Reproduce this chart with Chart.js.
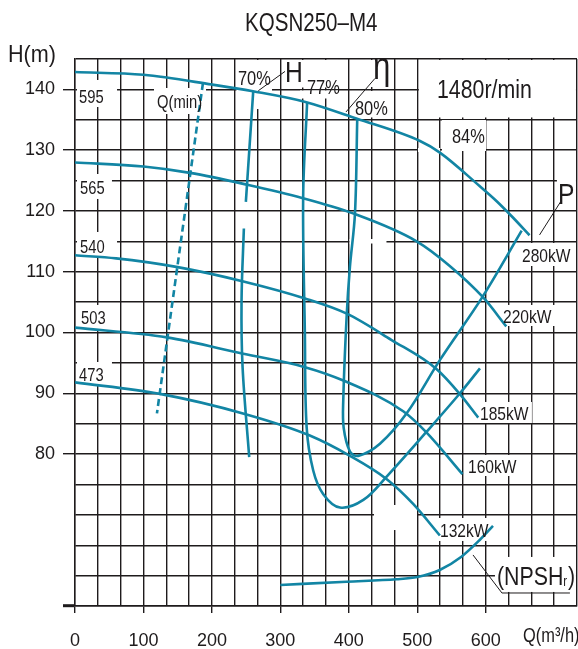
<!DOCTYPE html>
<html>
<head>
<meta charset="utf-8">
<script src="https://cdn.jsdelivr.net/npm/chart.js@4/dist/chart.umd.min.js"></script>
<style>
html, body { margin: 0; padding: 0; background: #fff; }
#wrap { width: 578px; height: 649px; position: relative; }
</style>
</head>
<body>
<div id="wrap"><canvas id="c"></canvas></div>
<script>
// head curves, one per impeller diameter (Q in m3/h, H in m)
var h595X = [0, 100, 200, 260, 338, 411, 504, 533, 591, 616, 639, 664];
var h595Y = [142.85, 142.4, 140.8, 139.7, 137.9, 135.2, 131.5, 129.6, 124.1, 121.6, 119.0, 116.0];
var h565X = [0, 100, 168, 250, 333, 406, 499, 547, 596, 630];
var h565Y = [127.97, 127.3, 126.26, 124.35, 122.1, 119.6, 115.0, 111.0, 105.8, 101.0];
var h540X = [0, 60, 148, 246, 336, 397, 462, 528, 562, 589];
var h540Y = [112.7, 112.2, 110.8, 108.4, 105.6, 103.1, 98.8, 94.0, 89.9, 86.0];
var h503X = [0, 134, 246, 336, 392, 480, 513, 566];
var h503Y = [100.8, 99.2, 96.5, 94.3, 92.1, 87.0, 83.6, 76.7];
var h473X = [0, 124, 248, 343, 401, 455, 494, 533];
var h473Y = [91.8, 89.9, 86.6, 83.05, 79.75, 75.9, 71.8, 66.6];

// iso-efficiency lines (null = break in the printed line)
var e70X = [260.3, 249.6, 248, 246.7, 243.3, 244.8, 254.5];
var e70Y = [139.6, 121.5, null, 117.1, 105.3, 94.3, 79.5];
var e77X = [339.1, 333.3, 335.8, 338.4, 348, 362.7, 387.1, 421.2, 455.3, 513.7, 562.4, 591.6];
var e77Y = [137.86, 122.3, 99.8, 84.4, 77.3, 73.4, 71.2, 72.45, 76.3, 83.68, 90.0, 94.1];
var e80X = [412.3, 409, 401.6, 396.8, 391.9, 392.5, 401.7, 413.8, 445.5, 484.5, 533.2, 595.5, 652.5];
var e80Y = [135.1, 119.6, 110.8, 102.6, 88.9, 84.3, 80.4, 79.7, 81.7, 86.7, 95.5, 105.9, 116.75];

// minimum flow line
var qMinX = [186.9, 119.7];
var qMinY = [141.04, 86.7];

// NPSHr curve, drawn in the frame of the H axis
var npshX = [300, 396.6, 469.6, 500.3, 532.8, 564.5, 591.2, 610.6];
var npshY = [58.46, 59.0, 59.4, 59.78, 60.93, 63.11, 65.86, 68.17];

// tick labels
var xTickLabels = [0, 100, 200, 300, 400, 500, 600];
var yTickLabels = [80, 90, 100, 110, 120, 130, 140];

var FONT = "'Liberation Sans Narrow','Arial Narrow','Liberation Sans',Arial,sans-serif";
var INK = '#1e1b1c';
var TEAL = '#1285a4';
var SQUEEZE = 0.82;   // the print uses a condensed face

// leader lines for labels
var leaders = [
  [[267.8, 139.78], [306.8, 142.96]],
  [[395.8, 136.28], [438.2, 141.8]],
  [[678.6, 116.05], [709.3, 121.5]],
  [[581.4, 63.4], [623.7, 57.14], [723, 57.14]]
];

// white patches behind labels [x0, x1, yTop, yBottom]
var masks = [
  [2.9, 61.4, 141.55, 137.1],
  [2.9, 54.0, 126.08, 121.97],
  [2.9, 61.4, 116.54, 112.26],
  [2.9, 58.4, 104.53, 100.41],
  [2.9, 54.0, 95.15, 91.2],
  [115.4, 191.4, 140.23, 135.95],
  [235.9, 287.8, 144.84, 136.77],
  [302.4, 334.5, 144.84, 140.56],
  [328.7, 384.2, 144.84, 140.31],
  [328.7, 384.2, 139.82, 138.5],
  [423.6, 464.5, 144.84, 140.39],
  [404.6, 464.5, 139.74, 135.38],
  [536.1, 600.4, 134.96, 129.86],
  [501, 533.2, 130.36, 129.7],
  [401, 455, 115.38, 114.64],
  [502.3, 731.8, 144.84, 135.38],
  [704, 731.8, 125.4, 120.65],
  [650, 726, 114.73, 110.94],
  [622.3, 701.2, 104.53, 101.07],
  [588.7, 667.5, 88.57, 85.11],
  [571.1, 650, 79.85, 76.39],
  [530.2, 606.2, 69.48, 65.7],
  [613.5, 731.8, 63.07, 57.31],
  [436.8, 499.6, 71.62, 67.5]
];

// text labels, y is the baseline
var notes = [
  { t: '595', x: 5.8, y: 137.84, size: 18 },
  { t: '565', x: 7.3, y: 122.87, size: 18 },
  { t: '540', x: 7.3, y: 113.16, size: 18 },
  { t: '503', x: 8.8, y: 101.32, size: 18 },
  { t: '473', x: 5.8, y: 91.94, size: 18 },
  { t: 'Q(min)', x: 119.8, y: 137.02, size: 18 },
  { t: '70%', x: 238.1, y: 140.72, size: 20 },
  { t: 'H', x: 306.7, y: 141.27, size: 30 },
  { t: '77%', x: 338.9, y: 139.19, size: 20 },
  { t: '80%', x: 409, y: 135.79, size: 20 },
  { t: '\u03b7', x: 435.3, y: 141.71, size: 38 },
  { t: '84%', x: 550.7, y: 131.23, size: 20 },
  { t: '1480r/min', x: 528.8, y: 138.63, size: 26 },
  { t: 'P', x: 705.5, y: 121.14, size: 30 },
  { t: '280kW', x: 653, y: 111.6, size: 19 },
  { t: '220kW', x: 625.2, y: 101.56, size: 19 },
  { t: '185kW', x: 591.6, y: 85.6, size: 19 },
  { t: '160kW', x: 574.1, y: 76.89, size: 19 },
  { t: '132kW', x: 533.2, y: 66.36, size: 19 },
  { t: '(NPSH', sub: 'r', tail: ')', x: 616.4, y: 58.46, size: 26 }
];

function pts(xs, ys) {
  return xs.map(function (x, i) { return { x: x, y: ys[i] }; });
}
function curve(xs, ys, extra) {
  var d = {
    data: pts(xs, ys), borderColor: TEAL, borderWidth: 2.6,
    pointRadius: 0, fill: false, tension: 0.35, spanGaps: false
  };
  for (var k in extra) d[k] = extra[k];
  return d;
}
function isXLabel(v) {
  return xTickLabels.some(function (t) { return Math.abs(t - v) < 0.01; });
}
function isYLabel(v) {
  return yTickLabels.some(function (t) { return Math.abs(t - v) < 0.01; });
}
// condensed text: draw with a horizontal squeeze at (px, py)
function squeezed(c, text, px, py, size, k) {
  c.save();
  c.font = size + 'px ' + FONT;
  c.translate(px, py);
  c.scale(k, 1);
  c.fillText(text, 0, 0);
  var w = c.measureText(text).width * k;
  c.restore();
  return w;
}

var xGrid = [], yGrid = [];
for (var i = 0; i <= 22; i++) xGrid.push(i * 100 / 3);
for (var j = 0; j <= 18; j++) yGrid.push(55 + j * 5);

var datasets = [
  curve(h595X, h595Y, { cubicInterpolationMode: 'monotone' }),
  curve(h565X, h565Y, { cubicInterpolationMode: 'monotone' }),
  curve(h540X, h540Y, { cubicInterpolationMode: 'monotone' }),
  curve(h503X, h503Y, { cubicInterpolationMode: 'monotone' }),
  curve(h473X, h473Y, { cubicInterpolationMode: 'monotone' }),
  curve(e70X, e70Y, {}),
  curve(e77X, e77Y, {}),
  curve(e80X, e80Y, {}),
  curve(qMinX, qMinY, { borderDash: [7, 4], tension: 0 }),
  curve(npshX, npshY, { cubicInterpolationMode: 'monotone' })
];
leaders.forEach(function (l) {
  datasets.push({
    data: l.map(function (p) { return { x: p[0], y: p[1] }; }),
    borderColor: INK, borderWidth: 1, pointRadius: 0, tension: 0, fill: false
  });
});

var decor = {
  id: 'decor',
  beforeDatasetsDraw: function (chart) {
    var c = chart.ctx, xs = chart.scales.x, ys = chart.scales.y;
    c.save();
    c.fillStyle = '#fff';
    masks.forEach(function (b) {
      var x0 = xs.getPixelForValue(b[0]), x1 = xs.getPixelForValue(b[1]);
      var y0 = ys.getPixelForValue(b[2]), y1 = ys.getPixelForValue(b[3]);
      c.fillRect(x0, y0, x1 - x0, y1 - y0);
    });
    c.restore();
  },
  afterDatasetsDraw: function (chart) {
    var c = chart.ctx, xs = chart.scales.x, ys = chart.scales.y;
    c.save();
    c.fillStyle = INK;
    c.textAlign = 'left';
    c.textBaseline = 'alphabetic';
    notes.forEach(function (n) {
      var px = xs.getPixelForValue(n.x), py = ys.getPixelForValue(n.y);
      var w = squeezed(c, n.t, px, py, n.size, SQUEEZE);
      if (n.sub) {
        var w2 = squeezed(c, n.sub, px + w, py + 1, Math.round(n.size * 0.55), SQUEEZE);
        squeezed(c, n.tail, px + w + w2 + 1, py, n.size, SQUEEZE);
      }
    });
    squeezed(c, 'KQSN250\u2013M4', 245, 31, 26, 0.79);
    squeezed(c, 'H(m)', 8, 62, 24, 0.9);
    squeezed(c, 'Q(m\u00b3/h)', 523, 642, 20, 0.82);
    c.restore();
  }
};

new Chart(document.getElementById('c'), {
  type: 'line',
  data: { datasets: datasets },
  options: {
    animation: false,
    responsive: true,
    maintainAspectRatio: false,
    events: [],
    layout: { padding: { top: 59, right: 1, bottom: 0, left: 0 } },
    plugins: { legend: { display: false }, tooltip: { enabled: false }, title: { display: false } },
    scales: {
      x: {
        type: 'linear', min: 0, max: 2200 / 3,
        afterBuildTicks: function (s) { s.ticks = xGrid.map(function (v) { return { value: v }; }); },
        afterFit: function (s) { s.height = 43; s.paddingLeft = 0; s.paddingRight = 0; },
        grid: {
          color: INK, lineWidth: 1.4, tickLength: 7, tickWidth: 1.4,
          tickColor: function (ctx) { return ctx.tick && isXLabel(ctx.tick.value) ? INK : 'rgba(0,0,0,0)'; }
        },
        border: { color: INK, width: 1.4 },
        ticks: {
          autoSkip: false, maxRotation: 0, padding: 17, color: INK,
          font: { family: FONT, size: 18 },
          callback: function (v) { return isXLabel(v) ? String(Math.round(v)) : ''; }
        }
      },
      y: {
        type: 'linear', min: 55, max: 145,
        afterBuildTicks: function (s) { s.ticks = yGrid.map(function (v) { return { value: v }; }); },
        afterFit: function (s) { s.width = 75; s.paddingTop = 0; s.paddingBottom = 0; },
        grid: {
          color: INK, lineWidth: 1.4, tickLength: 12,
          tickWidth: function (ctx) { return ctx.tick && ctx.tick.value === 55 ? 3 : 1.4; },
          tickColor: function (ctx) {
            if (!ctx.tick) return 'rgba(0,0,0,0)';
            return (isYLabel(ctx.tick.value) || ctx.tick.value === 55) ? INK : 'rgba(0,0,0,0)';
          }
        },
        border: { color: INK, width: 1.4 },
        ticks: {
          autoSkip: false, padding: 8, color: INK,
          font: { family: FONT, size: 18 },
          callback: function (v) { return isYLabel(v) ? String(Math.round(v)) : ''; }
        }
      }
    }
  },
  plugins: [decor]
});
</script>
</body>
</html>
